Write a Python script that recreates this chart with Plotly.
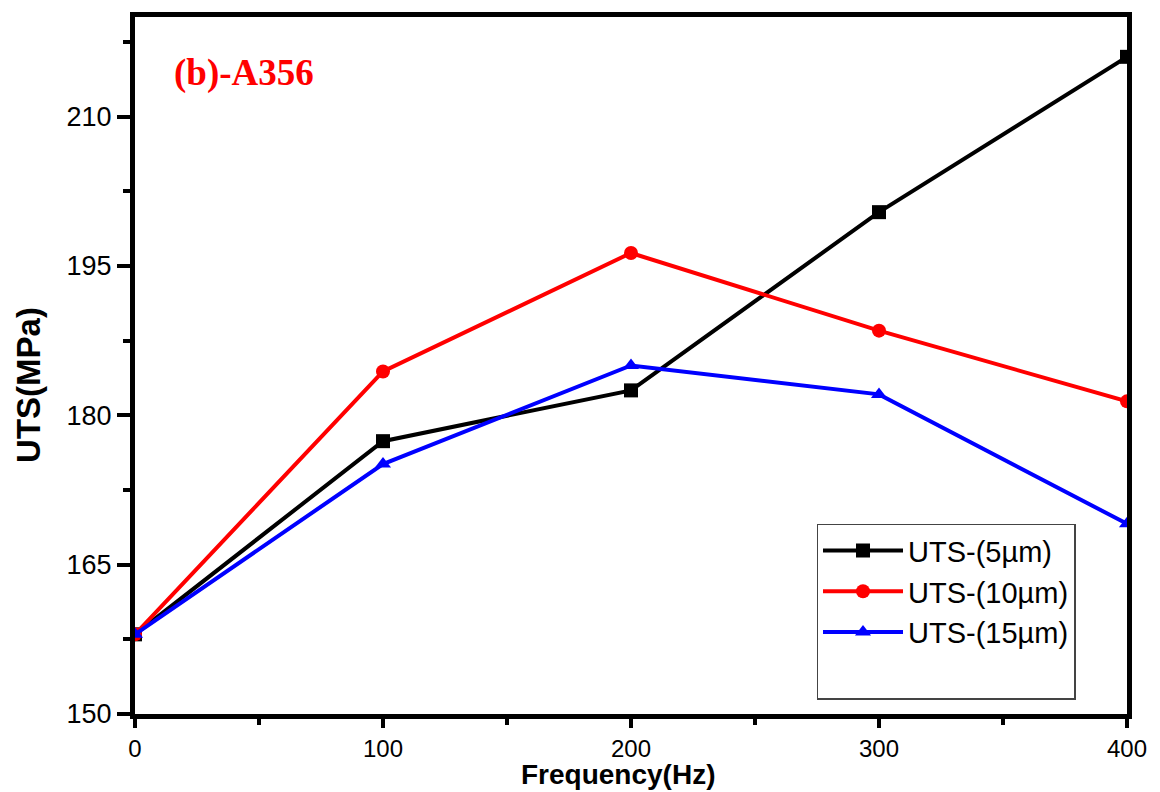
import plotly.graph_objects as go

freq = [0, 100, 200, 300, 400]
uts_5 = [158.0, 177.4, 182.5, 200.4, 216.0]
uts_10 = [158.0, 184.4, 196.3, 188.5, 181.4]
uts_15 = [158.0, 175.1, 185.0, 182.1, 169.1]

series = [
    ("UTS-(5µm)", uts_5, "#000000", "square"),
    ("UTS-(10µm)", uts_10, "#ff0000", "circle"),
    ("UTS-(15µm)", uts_15, "#0000ff", "triangle-up"),
]

fig = go.Figure()
for name, ys, color, sym in series:
    fig.add_trace(go.Scatter(
        x=freq, y=ys, name=name, mode="lines+markers",
        line=dict(color=color, width=4),
        marker=dict(symbol=sym, size=14, color=color),
    ))
# blank legend row (the reference legend box has empty space below the entries)
fig.add_trace(go.Scatter(x=[None], y=[None], name=" ", mode="lines",
                         line=dict(color="rgba(0,0,0,0)", width=0), hoverinfo="skip"))

FONT = "Liberation Sans, Arial"
common = dict(
    showline=True, linewidth=5, linecolor="black", mirror=True,
    ticks="outside", tickwidth=4, tickcolor="black",
    showgrid=False, zeroline=False,
)

fig.update_xaxes(
    range=[0, 400], tickvals=[0, 100, 200, 300, 400], ticklen=9,
    tickfont=dict(family=FONT, size=24, color="black"),
    minor=dict(ticks="outside", tickvals=[50, 150, 250, 350], ticklen=6, tickwidth=4, tickcolor="black"),
    **common,
)
fig.update_yaxes(
    range=[150, 220], tickvals=[150, 165, 180, 195, 210], ticklen=13,
    tickfont=dict(family=FONT, size=27, color="black"),
    minor=dict(ticks="outside", tickvals=[157.5, 172.5, 187.5, 202.5, 217.5], ticklen=7, tickwidth=4, tickcolor="black"),
    **common,
)

fig.add_annotation(
    x=0.487, y=-0.087, xref="paper", yref="paper", xanchor="center", yanchor="middle",
    text="<b>Frequency(Hz)</b>", showarrow=False,
    font=dict(family=FONT, size=28, color="black"),
)
fig.add_annotation(
    x=-0.108, y=0.472, xref="paper", yref="paper", xanchor="center", yanchor="middle",
    text="<b>UTS(MPa)</b>", showarrow=False, textangle=-90,
    font=dict(family=FONT, size=33, color="black"),
)
fig.add_annotation(
    x=0.037, y=0.92, xref="paper", yref="paper", xanchor="left", yanchor="middle",
    text="<b>(b)-A356</b>", showarrow=False,
    font=dict(family="Liberation Serif, Times New Roman", size=37, color="#ff0000"),
)

fig.update_layout(
    width=1160, height=792,
    margin=dict(l=135, r=33, t=14, b=78),
    paper_bgcolor="white", plot_bgcolor="white",
    legend=dict(
        x=0.687, y=0.273, xanchor="left", yanchor="top",
        bgcolor="white", bordercolor="#444444", borderwidth=1.5,
        font=dict(family=FONT, size=29, color="black"),
        itemwidth=80, tracegroupgap=0,
    ),
    showlegend=True,
)

fig.write_html("out.html")
